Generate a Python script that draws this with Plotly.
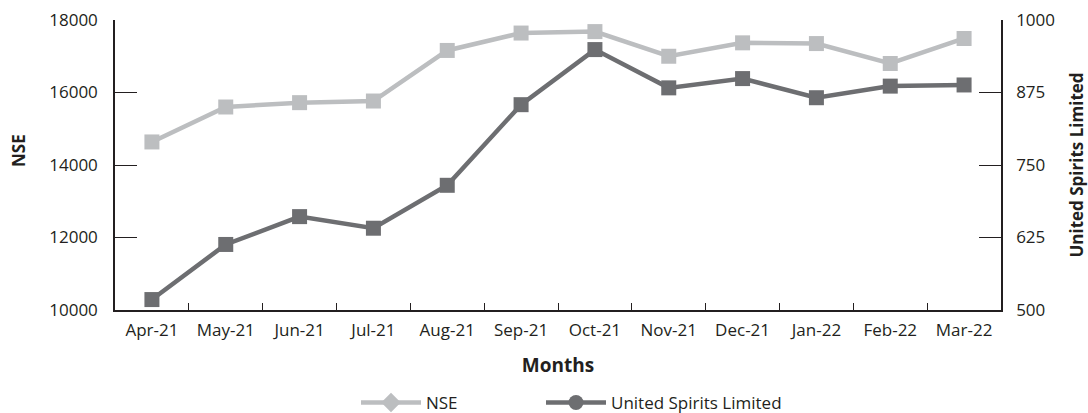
import plotly.graph_objects as go

months = ["Apr-21", "May-21", "Jun-21", "Jul-21", "Aug-21", "Sep-21",
          "Oct-21", "Nov-21", "Dec-21", "Jan-22", "Feb-22", "Mar-22"]
nse = [14636, 15600, 15720, 15765, 17160, 17640, 17680, 17000, 17370, 17350, 16800, 17490]
usl = [518, 613, 661, 641, 715, 854, 949, 883, 899, 866, 886, 888]

left_ticks = [10000, 12000, 14000, 16000, 18000]
left_labels = ["10000", "12000", "14000", "16000", "18000"]
right_ticks = [500, 625, 750, 875, 1000]
right_labels = ["500", "625", "750", "875", "1000"]

NSE_COL = "#BCBEC0"
USL_COL = "#6D6E71"
AX_COL = "#231F20"
FONT = "Open Sans"

fig = go.Figure()
fig.add_trace(go.Scatter(x=months, y=nse, mode="lines+markers", name="NSE",
                         line=dict(color=NSE_COL, width=4.5),
                         marker=dict(symbol="square", size=15, color=NSE_COL),
                         showlegend=False, yaxis="y"))
fig.add_trace(go.Scatter(x=months, y=usl, mode="lines+markers", name="United Spirits Limited",
                         line=dict(color=USL_COL, width=4.5),
                         marker=dict(symbol="square", size=15, color=USL_COL),
                         showlegend=False, yaxis="y2"))
# legend-only entries (legend uses diamond / circle symbols)
fig.add_trace(go.Scatter(x=[None], y=[None], mode="lines+markers", name="NSE",
                         line=dict(color=NSE_COL, width=4.5),
                         marker=dict(symbol="diamond", size=15, color=NSE_COL),
                         legend="legend"))
fig.add_trace(go.Scatter(x=[None], y=[None], mode="lines+markers", name="United Spirits Limited",
                         line=dict(color=USL_COL, width=4.5),
                         marker=dict(symbol="circle", size=15, color=USL_COL), yaxis="y2",
                         legend="legend2"))

leg_common = dict(orientation="h", itemwidth=60, font=dict(size=17),
                  xref="container", yref="container", xanchor="left", yanchor="middle",
                  bgcolor="rgba(0,0,0,0)")

fig.update_layout(
    width=1088, height=413,
    margin=dict(l=115, r=87, t=20, b=103, autoexpand=False),
    paper_bgcolor="white", plot_bgcolor="white",
    font=dict(family=FONT, size=17, color=AX_COL),
    xaxis=dict(type="category", categoryorder="array", categoryarray=months,
               range=[-0.5, 11.5], showgrid=False, showline=True, linecolor=AX_COL, linewidth=1.5,
               ticks="inside", tickson="boundaries", ticklen=7, tickcolor=AX_COL, tickwidth=1.2,
               ticklabelstandoff=4, automargin=False,
               title=dict(text="<b>Months</b>", font=dict(size=19), standoff=19),
               tickfont=dict(size=17)),
    yaxis=dict(range=[10000, 18000], tickvals=left_ticks, ticktext=left_labels,
               showgrid=False, zeroline=False, automargin=False,
               showline=True, linecolor=AX_COL, linewidth=1.5,
               ticks="inside", ticklen=22, tickcolor=AX_COL, tickwidth=1.2,
               ticklabelstandoff=12),
    yaxis2=dict(range=[500, 1000], tickvals=right_ticks, ticktext=right_labels,
                overlaying="y", side="right", automargin=False,
                showgrid=False, zeroline=False, showline=True, linecolor=AX_COL, linewidth=1.5,
                ticks="inside", ticklen=22, tickcolor=AX_COL, tickwidth=1.2,
                ticklabelstandoff=10,
                title=dict(text="<b>United Spirits Limited</b>", font=dict(size=17), standoff=17)),
    legend=dict(x=356 / 1088, y=10 / 413, **leg_common),
    legend2=dict(x=541 / 1088, y=10 / 413, **leg_common),
    showlegend=True,
    annotations=[dict(text="<b>NSE</b>", xref="paper", yref="paper",
                      x=-115 / 886 + 18 / 886, y=(310 - 150) / 290, textangle=-90,
                      showarrow=False, font=dict(size=17, family=FONT, color=AX_COL),
                      xanchor="center", yanchor="middle")],
)

fig.write_html("out.html", config={"displayModeBar": False},
               post_script="document.body.style.margin='0';document.body.style.padding='0';")
